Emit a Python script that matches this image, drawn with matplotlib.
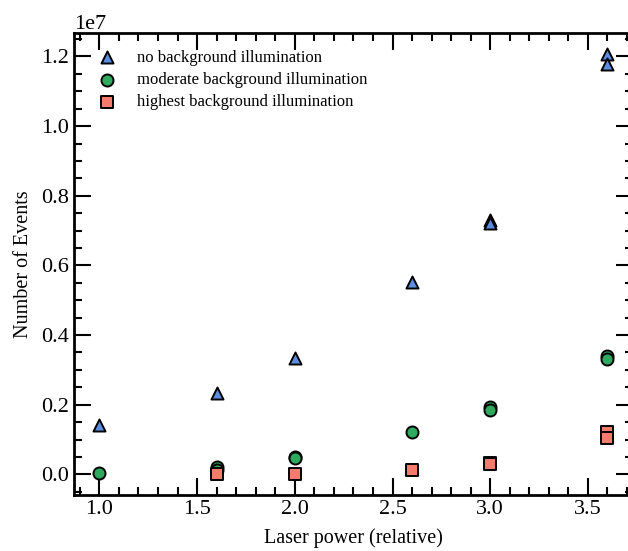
import numpy as np
import matplotlib
matplotlib.use("Agg")
import matplotlib.pyplot as plt
from matplotlib.ticker import MultipleLocator

plt.rcParams["font.family"] = ["Liberation Serif", "DejaVu Serif"]

# ── Data (events) ──────────────────────────────────────────────
x_none = [1.0, 1.6, 2.0, 2.6, 3.0, 3.0, 3.6, 3.6]
y_none = [0.141e7, 0.235e7, 0.334e7, 0.553e7, 0.731e7, 0.722e7, 1.207e7, 1.177e7]

x_mod = [1.0, 1.6, 1.6, 2.0, 2.0, 2.6, 3.0, 3.0, 3.6, 3.6]
y_mod = [0.004e7, 0.020e7, 0.012e7, 0.050e7, 0.046e7, 0.121e7, 0.193e7, 0.186e7, 0.340e7, 0.331e7]

x_high = [1.6, 2.0, 2.6, 3.0, 3.0, 3.6, 3.6]
y_high = [0.001e7, 0.001e7, 0.012e7, 0.033e7, 0.030e7, 0.121e7, 0.104e7]

# ── Plot ───────────────────────────────────────────────────────
fig = plt.figure(figsize=(6.28, 5.51), dpi=100)
# axes runs slightly past the right edge, as in the original crop
ax = fig.add_axes([0.1178, 0.1016, 0.890, 0.8385])

mk = dict(s=75, edgecolors="black", linewidths=1.4, zorder=3)
ax.scatter(x_none, y_none, marker="^", color="#5b8ee0", label="no background illumination", **mk)
ax.scatter(x_mod, y_mod, marker="o", color="#2eaa5e", label="moderate background illumination", **mk)
ax.scatter(x_high, y_high, marker="s", color="#f57b6c", label="highest background illumination", **mk)

ax.set_xlabel("Laser power (relative)", fontsize=14.5, labelpad=7)
ax.set_ylabel("Number of Events", fontsize=14.5, labelpad=6)

ax.xaxis.set_major_locator(MultipleLocator(0.5))
ax.xaxis.set_minor_locator(MultipleLocator(0.1))
ax.yaxis.set_major_locator(MultipleLocator(0.2e7))
ax.yaxis.set_minor_locator(MultipleLocator(0.05e7))

ax.tick_params(which="both", direction="in", top=True, right=True, labelsize=16, width=1.5)
ax.tick_params(which="major", length=12)
ax.tick_params(which="minor", length=6)
ax.yaxis.get_offset_text().set_fontsize(16)
for s in ax.spines.values():
    s.set_linewidth(2)

ax.legend(loc="upper left", frameon=False, fontsize=12, handletextpad=0.8,
          labelspacing=0.38, borderaxespad=0.6)

fig.savefig("out.png", dpi=100)
